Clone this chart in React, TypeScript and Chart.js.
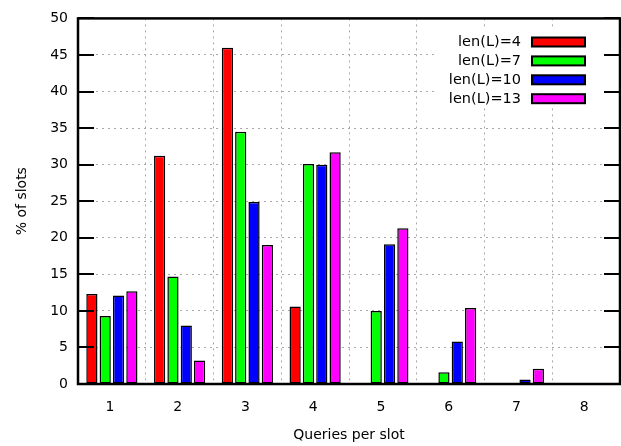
import React, { useEffect, useRef } from "react";
import { Chart, registerables } from "chart.js";

Chart.register(...registerables);

const categories = ["1", "2", "3", "4", "5", "6", "7", "8"];
const seriesLabels = ["len(L)=4", "len(L)=7", "len(L)=10", "len(L)=13"];
const len4 = [12.3, 31.2, 46.0, 10.6, 0, 0, 0, 0];
const len7 = [9.3, 14.7, 34.5, 30.1, 10.0, 1.6, 0, 0];
const len10 = [12.1, 8.0, 24.9, 30.0, 19.1, 5.8, 0.6, 0.05];
const len13 = [12.7, 3.2, 19.0, 31.7, 21.3, 10.4, 2.1, 0.1];
const seriesColors = ["#ff0000", "#00ff00", "#0000ff", "#ff00ff"];
const yMin = 0;
const yMax = 50;
const yStep = 5;
const xTitle = "Queries per slot";
const yTitle = "% of slots";

const FONT = "'DejaVu Sans', sans-serif";

const framePlugin = {
  id: "gnuplotFrame",
  afterDatasetsDraw(chart: any) {
    const { ctx, chartArea } = chart;
    const { left, right, top, bottom } = chartArea;
    ctx.save();
    // legend (key) box
    ctx.fillStyle = "#ffffff";
    ctx.fillRect(436, 30, 168, 75);
    ctx.font = `14.5px ${FONT}`;
    ctx.textAlign = "right";
    ctx.textBaseline = "middle";
    chart.data.datasets.forEach((ds: any, i: number) => {
      const cy = 42 + i * 18.9;
      ctx.fillStyle = "#000";
      ctx.fillText(ds.label, 521, cy + 0.5);
      ctx.fillStyle = ds.backgroundColor;
      ctx.fillRect(532, cy - 4.5, 53, 9);
      ctx.strokeStyle = "#000";
      ctx.lineWidth = 2;
      ctx.strokeRect(532, cy - 4.5, 53, 9);
    });
    // inward ticks on y axis (left and right)
    const yScale = chart.scales.y;
    ctx.strokeStyle = "#000";
    ctx.lineWidth = 2;
    yScale.ticks.forEach((t: any) => {
      const py = Math.round(yScale.getPixelForValue(t.value));
      ctx.beginPath();
      ctx.moveTo(left, py);
      ctx.lineTo(left + 16, py);
      ctx.moveTo(right, py);
      ctx.lineTo(right - 16, py);
      ctx.stroke();
    });
    // frame
    ctx.lineWidth = 2.5;
    ctx.strokeRect(left, top, right - left, bottom - top);
    ctx.restore();
  },
};

export default function App() {
  const ref = useRef<HTMLCanvasElement | null>(null);
  useEffect(() => {
    document.body.style.margin = "0";
    if (!ref.current) return;
    const makeDs = (label: string, data: number[], color: string) => ({
      label,
      data,
      backgroundColor: color,
      borderColor: "#000000",
      borderWidth: 1.5,
      borderSkipped: false,
      categoryPercentage: 0.787,
      barPercentage: 0.84,
    });
    const chart = new Chart(ref.current, {
      type: "bar",
      data: {
        labels: categories,
        datasets: [
          makeDs(seriesLabels[0], len4, seriesColors[0]),
          makeDs(seriesLabels[1], len7, seriesColors[1]),
          makeDs(seriesLabels[2], len10, seriesColors[2]),
          makeDs(seriesLabels[3], len13, seriesColors[3]),
        ],
      },
      options: {
        animation: false,
        responsive: false,
        maintainAspectRatio: false,
        layout: { padding: { left: 0, right: 1, top: 13, bottom: 0 } },
        plugins: {
          legend: { display: false },
          tooltip: { enabled: false },
        },
        scales: {
          x: {
            type: "category",
            offset: true,
            grid: {
              offset: true,
              color: "#a8a8a8",
              lineWidth: 1,
              drawTicks: false,
            },
            border: { display: false, dash: [2, 4] },
            ticks: {
              color: "#000",
              font: { family: FONT, size: 14 },
              padding: 15,
              labelOffset: -2,
              maxRotation: 0,
            },
            title: {
              display: true,
              text: xTitle,
              color: "#000",
              font: { family: FONT, size: 14 },
              padding: { top: 0, bottom: 2 },
            },
            afterFit(scale: any) {
              scale.height = 62;
            },
          },
          y: {
            min: yMin,
            max: yMax,
            grid: {
              color: "#a8a8a8",
              lineWidth: 1,
              drawTicks: false,
            },
            border: { display: false, dash: [2, 4] },
            ticks: {
              stepSize: yStep,
              color: "#000",
              font: { family: FONT, size: 14 },
              padding: 10,
            },
            title: {
              display: true,
              text: yTitle,
              color: "#000",
              font: { family: FONT, size: 14 },
              padding: { top: 14, bottom: 0 },
            },
            afterFit(scale: any) {
              scale.width = 78;
            },
          },
        },
      },
      plugins: [framePlugin],
    } as any);
    return () => chart.destroy();
  }, []);
  return (
    <div style={{ width: 621, height: 446 }}>
      <canvas ref={ref} width={621} height={446} style={{ display: "block" }} />
    </div>
  );
}
